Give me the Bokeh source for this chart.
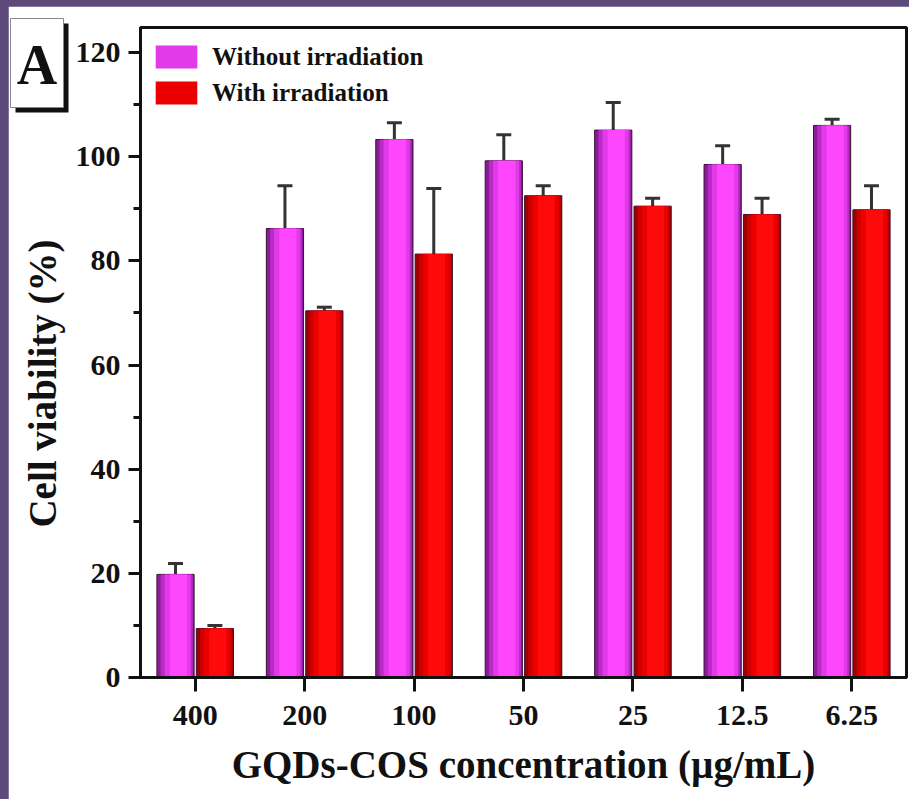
import numpy as np
from bokeh.plotting import figure
from bokeh.models import (Range1d, FixedTicker, Whisker, TeeHead, ColumnDataSource,
                          Legend, LegendItem, Spacer)
from bokeh.core.properties import value
from bokeh.layouts import row, column
from bokeh.embed import file_html
from bokeh.resources import INLINE

# ---- data ----
categories = ["400", "200", "100", "50", "25", "12.5", "6.25"]
without_vals = [19.8, 86.2, 103.3, 99.2, 105.1, 98.5, 106.0]
without_err = [2.1, 8.2, 3.2, 5.0, 5.3, 3.6, 1.2]
with_vals = [9.4, 70.4, 81.3, 92.5, 90.5, 88.9, 89.8]
with_err = [0.6, 0.7, 12.6, 1.9, 1.5, 3.1, 4.6]
series_names = ["Without irradiation", "With irradiation"]
y_ticks = [0, 20, 40, 60, 80, 100, 120]
y_minor = [10, 30, 50, 70, 90, 110]
panel_letter = "A"
x_title = "GQDs-COS concentration (\u00b5g/mL)"
y_title = "Cell viability (%)"

FONT = "Liberation Serif"
PURPLE_BG = "#5d4a7b"
W, H = 901, 793
PW, PH = 909, 799

x = np.arange(1, len(categories) + 1)
bw = 0.34
offsets = [-0.18, 0.18]

p = figure(width=W, height=H, x_range=Range1d(0.5, 7.5), y_range=Range1d(0, 124.8),
           output_backend="svg", toolbar_location=None,
           min_border_left=132, min_border_right=3, min_border_top=21, min_border_bottom=122)
p.border_fill_color = "white"
p.background_fill_color = "white"
p.outline_line_color = "#111111"
p.outline_line_width = 3
p.xgrid.visible = False
p.ygrid.visible = False

# gradient-like layers: (width fraction, shift fraction, color)
mag_layers = [(1.0, 0.0, "#8a1c9a"), (0.86, 0.03, "#b92ac6"), (0.7, 0.06, "#e23ae9"), (0.46, 0.08, "#ff46ff")]
red_layers = [(1.0, 0.0, "#a00000"), (0.86, 0.03, "#cc0000"), (0.7, 0.06, "#eb0000"), (0.46, 0.08, "#ff0a0a")]

legend_renderers = []
for vals, errs, off, layers in [(without_vals, without_err, offsets[0], mag_layers),
                                (with_vals, with_err, offsets[1], red_layers)]:
    chosen = None
    for i, (wf, sh, col) in enumerate(layers):
        r = p.vbar(x=x + off + sh * bw, width=bw * wf, top=vals, bottom=0,
                   fill_color=col, line_color="#3a1030" if i == 0 else None,
                   line_width=1)
        if i == 2:
            chosen = r
    legend_renderers.append(chosen)
    src = ColumnDataSource(dict(x=x + off, lower=vals,
                                upper=[v + e for v, e in zip(vals, errs)]))
    w = Whisker(base="x", lower="lower", upper="upper", source=src,
                line_color="#333333", line_width=3,
                upper_head=TeeHead(size=15, line_color="#333333", line_width=3),
                lower_head=None)
    p.add_layout(w)

# axes
p.xaxis.ticker = FixedTicker(ticks=list(x))
p.xaxis.major_label_overrides = {int(i): c for i, c in zip(x, categories)}
p.yaxis.ticker = FixedTicker(ticks=y_ticks, minor_ticks=y_minor)
for ax in (p.xaxis[0], p.yaxis[0]):
    ax.axis_line_width = 3
    ax.axis_line_color = "#111111"
    ax.major_tick_line_width = 3
    ax.major_tick_line_color = "#111111"
    ax.major_tick_in = 0
    ax.minor_tick_in = 0
    ax.major_label_text_font = FONT
    ax.major_label_text_font_style = "bold"
    ax.major_label_text_font_size = "30px"
    ax.major_label_text_color = "#111111"
    ax.axis_label_text_font = FONT
    ax.axis_label_text_font_style = "bold"
    ax.axis_label_text_color = "#111111"
p.xaxis.axis_label_text_font_size = "39px"
p.xaxis.major_tick_out = 14
p.xaxis.minor_tick_line_color = None
p.xaxis.major_label_standoff = 14
p.xaxis.axis_label = x_title
p.xaxis.axis_label_standoff = 15
p.yaxis.major_tick_out = 12
p.yaxis.minor_tick_out = 7
p.yaxis.minor_tick_line_width = 3
p.yaxis.minor_tick_line_color = "#111111"
p.yaxis.major_label_standoff = 8

# legend
legend = Legend(items=[LegendItem(label=series_names[0], renderers=[legend_renderers[0]]),
                       LegendItem(label=series_names[1], renderers=[legend_renderers[1]])],
                location=(10, 570), glyph_width=52, glyph_height=29, label_height=29,
                spacing=7, padding=0, margin=0, label_standoff=10,
                label_text_font=FONT, label_text_font_style="bold",
                label_text_font_size="25px", label_text_color="#111111",
                border_line_color=None, background_fill_alpha=0)
p.add_layout(legend)

# overlay figure covering the whole page (ranges = page pixel coordinates):
# panel letter box and the y-axis title
pa = figure(width=PW, height=PH, x_range=Range1d(0, PW), y_range=Range1d(PH, 0),
            output_backend="svg", toolbar_location=None, min_border=0,
            margin=(0, 0, 0, -PW))
pa.axis.visible = False
pa.grid.visible = False
pa.outline_line_color = None
pa.background_fill_alpha = 0
pa.border_fill_alpha = 0
pa.quad(left=[15], right=[68], top=[23], bottom=[112], fill_color="#111111", line_color=None)
pa.quad(left=[10], right=[63], top=[18], bottom=[107], fill_color="white",
        line_color="#888888", line_width=1)
pa.text(x=[36.5], y=[64], text=[panel_letter], text_font=value(FONT),
        text_font_style="bold", text_font_size="56px", text_align="center",
        text_baseline="middle", text_color="#111111")
pa.text(x=[42], y=[383], text=[y_title], angle=np.pi / 2, text_font=value(FONT),
        text_font_style="bold", text_font_size="39px", text_align="center",
        text_baseline="middle", text_color="#111111")

layout = row(Spacer(width=PW - W, height=PH),
             column(Spacer(width=W, height=PH - H), p),
             pa,
             styles={"background-color": PURPLE_BG})

open("out.html", "w").write(file_html(layout, INLINE))
